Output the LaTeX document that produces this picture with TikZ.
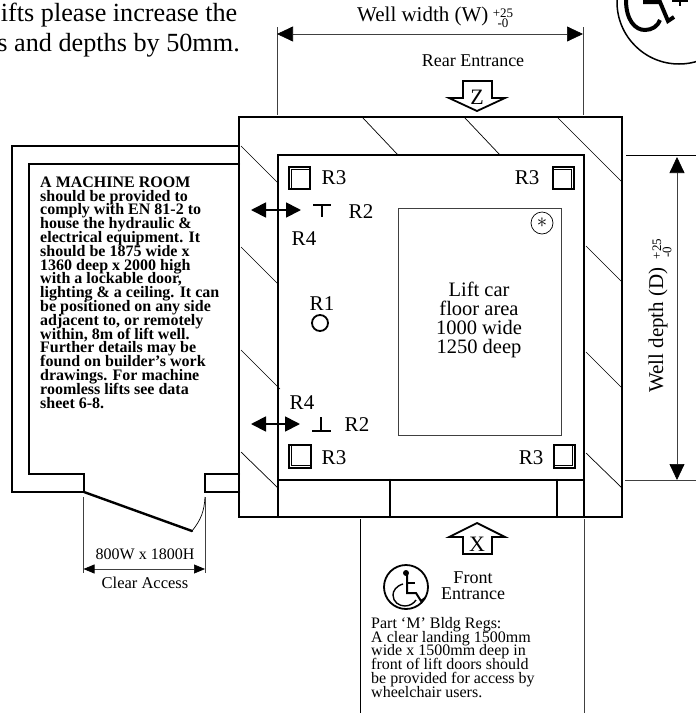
\documentclass[tikz,border=0pt]{standalone}
\usepackage{fontspec}
\setmainfont{Liberation Serif}
\usetikzlibrary{arrows.meta}
\lineskiplimit=-30pt

\begin{document}
\begin{tikzpicture}[x=1pt,y=-1pt,
	wall/.style={line width=2.4pt,line cap=round,line join=miter},
	hatch/.style={line width=.7pt},
	dim/.style={line width=.7pt,black!75},
	bigdim/.style={line width=.7pt,black!75,{Triangle[length=16pt,width=15pt,black]}-{Triangle[length=16pt,width=15pt,black]}},
	smalldim/.style={line width=.7pt,black!75,{Triangle[length=11pt,width=9pt,black]}-{Triangle[length=11pt,width=9pt,black]}},
	moveit/.style={line width=1.8pt,{Triangle[length=15pt,width=15pt]}-{Triangle[length=15pt,width=15pt]}},
	entry/.style={line width=1.8pt,line join=miter},
	lbl/.style={inner sep=0pt,font=\fontsize{21}{21}\selectfont},
	topnote/.style={anchor=east,inner sep=0pt,font=\fontsize{26.2}{26.2}\selectfont},
	note/.style={inner sep=0pt,align=left,font=\fontsize{16}{13.8}\selectfont},
	tol/.style={inner sep=0pt,font=\fontsize{13}{13}\selectfont},
	chair/.style={line width=2pt,line cap=butt},
	railbox/.style={line width=2pt},
	railin/.style={line width=1.8pt}]
	\useasboundingbox (0,0) rectangle (696,713);
	\clip (0,0) rectangle (696,713);

	%top note
	\node [topnote] (n1) at (237.5,15) {ifts please increase the};
	\node [topnote] (n2) at (240,45) {s and depths by 50mm.};

	%well walls
	\draw [wall] (239,117) rectangle (622,517);
	\draw [wall] (278,155) rectangle (584,480);
	\draw [wall] (278,480) -- (278,517);
	\draw [wall] (390,480) -- (390,517);
	\draw [wall] (557,480) -- (557,517);
	\draw [wall] (584,480) -- (584,517);

	%hatching
	\draw [hatch] (363,118) -- (398,155);
	\draw [hatch] (465,118) -- (500,155);
	\draw [hatch] (558,118) -- (622,182);
	\draw [hatch] (241,146) -- (278,183);
	\draw [hatch] (241,247) -- (278,284);
	\draw [hatch] (241,350) -- (280,389);
	\draw [hatch] (241,452) -- (278,488);
	\draw [hatch] (586,246) -- (622,282);
	\draw [hatch] (586,352) -- (622,388);
	\draw [hatch] (586,453) -- (622,488);

	%machine room
	\draw [wall] (239,146) -- (12,146) -- (12,492) -- (84,492) -- (84,474) -- (29,474) -- (29,164) -- (239,164);
	\draw [wall] (239,474) -- (205,474) -- (205,492) -- (239,492);
	\coordinate (d1) at (84,492);
	\coordinate (d2) at (192,531);
	\coordinate (d3) at (205,497);
	\draw [wall] (d1) -- (d2);
	\draw [hatch] (d2) to [bend right=18] (d3);
	\node [note,anchor=north west,font=\bfseries\fontsize{16}{13.8}\selectfont] (room) at (40,176.5) {A MACHINE ROOM\\should be provided to\\comply with EN 81-2 to\\house the hydraulic \&\\electrical equipment. It\\should be 1875 wide x\\1360 deep x 2000 high\\with a lockable door,\\lighting \& a ceiling. It can\\be positioned on any side\\adjacent to, or remotely\\within, 8m of lift well.\\Further details may be\\found on builder’s work\\drawings. For machine\\roomless lifts see data\\sheet 6-8.};

	%clear access
	\coordinate (a1) at (83.5,497);
	\coordinate (a2) at (83.5,573);
	\coordinate (a3) at (205,497);
	\coordinate (a4) at (205,573);
	\draw [dim] (a1) -- (a2);
	\draw [dim] (a3) -- (a4);
	\draw [smalldim] (83.5,569) -- (205,569);
	\node [inner sep=0pt,font=\fontsize{16}{16}\selectfont] (c1) at (145,554) {800W x 1800H};
	\node [inner sep=0pt,font=\fontsize{16.5}{16.5}\selectfont] (c2) at (145,583) {Clear Access};

	%well width
	\coordinate (w1) at (277,27);
	\coordinate (w2) at (277,115);
	\coordinate (w3) at (583,27);
	\coordinate (w4) at (583,115);
	\draw [dim] (w1) -- (w2);
	\draw [dim] (w3) -- (w4);
	\draw [bigdim] (277,34) -- (583,34);
	\node [lbl,anchor=west] (t1) at (357,16) {Well width (W)};
	\node [tol] (t2) at (503,13) {+25};
	\node [tol] (t3) at (503,23) {-0};

	%well depth
	\coordinate (e1) at (626,155);
	\coordinate (e2) at (696,155);
	\coordinate (e3) at (625,480);
	\coordinate (e4) at (696,480);
	\draw [dim,black] (e1) -- (e2);
	\draw [dim] (e3) -- (e4);
	\draw [bigdim] (677,157) -- (677,480);
	\node [lbl,rotate=90,anchor=west] (t4) at (658,393) {Well depth (D)};
	\node [tol,rotate=90] (t5) at (657,249) {+25};
	\node [tol,rotate=90] (t6) at (667,252) {-0};

	%rear entrance
	\node [inner sep=0pt,font=\fontsize{18}{18}\selectfont] (rear) at (473,61) {Rear Entrance};
	\draw [entry] (463,81) -- (492,81) -- (492,98) -- (505,98) -- (477,111) -- (449,98) -- (463,98) -- cycle;
	\node [inner sep=0pt,font=\fontsize{22}{22}\selectfont] (z) at (477,97) {Z};

	%front entrance
	\draw [entry] (463,554) -- (492,554) -- (492,537) -- (505,537) -- (477,523) -- (449,537) -- (463,537) -- cycle;
	\node [inner sep=0pt,font=\fontsize{22}{22}\selectfont] (x) at (477,544) {X};
	\coordinate (f1) at (360,519);
	\coordinate (f2) at (360,713);
	\coordinate (f3) at (584,519);
	\coordinate (f4) at (584,713);
	\draw [hatch] (f1) -- (f2);
	\draw [dim] (f3) -- (f4);
	\node [inner sep=0pt,align=center,font=\fontsize{18}{16}\selectfont] (front) at (473,586) {Front\\Entrance};
	\node [note,anchor=north west] (part) at (371,617) {Part ‘M’ Bldg Regs:\\A clear landing 1500mm\\wide x 1500mm deep in\\front of lift doors should\\be provided for access by\\wheelchair users.};

	%wheelchair, front
	\draw [line width=1.8pt] (406,587) circle (22);
	\fill (406,573) circle (3);
	\draw [chair] (407,573) -- (407,593) -- (416,593) -- (421,601) -- (425,598);
	\draw [chair] (407,583) -- (415,583);
	\draw [line width=1.4pt] (403,584) .. controls (396,586) and (393,591) .. (393,595) .. controls (393,602) and (399,606) .. (405,606) .. controls (410,606) and (414,603) .. (416,600);

	%wheelchair, top right
	\draw [line width=1.5pt] (679,2) circle (62);
	\draw [line width=4pt] (626,0) .. controls (626,20) and (635,30) .. (645,30) .. controls (652,30) and (658,26) .. (660,20);
	\draw [line width=4pt] (643,2) -- (660,2) -- (668,21) -- (674,17);
	\draw [line width=1.5pt] (672,1) -- (688,1);
	\draw [line width=1.5pt] (680,0) -- (680,6);

	%lift car
	\draw [dim] (398,208) rectangle (561,435);
	\node [circle,draw,line width=.7pt,minimum size=22pt,inner sep=0pt,font=\fontsize{20}{20}\selectfont] (star) at (542,223) {$\ast$};
	\node [inner sep=0pt,align=center,font=\fontsize{20.5}{18.7}\selectfont] (car) at (479,320) {Lift car\\floor area\\1000 wide\\1250 deep};

	%rails and brackets
	\draw [railbox] (289,167) rectangle (310,189);
	\draw [railin] (291.5,189) -- (291.5,169.5) -- (310,169.5);
	\draw [railbox] (553,167) rectangle (574,189);
	\draw [railin] (571.5,189) -- (571.5,169.5) -- (553,169.5);
	\draw [railbox] (554,445) rectangle (575,468);
	\draw [railin] (572.5,445) -- (572.5,465.5) -- (554,465.5);
	\draw [railbox] (289,445) rectangle (311,468);
	\draw [railin] (291.5,445) -- (291.5,465.5) -- (311,465.5);
	\node [lbl] (r3a) at (334,178) {R3};
	\node [lbl] (r3b) at (527,178) {R3};
	\node [lbl] (r3c) at (531,458) {R3};
	\node [lbl] (r3d) at (334,458) {R3};

	\draw [line width=1.8pt] (313,205) -- (331,205);
	\draw [line width=1.8pt] (322,205) -- (322,217);
	\draw [line width=1.8pt] (312,431) -- (331,431);
	\draw [line width=1.8pt] (321,417) -- (321,431);
	\node [lbl] (r2a) at (361,212) {R2};
	\node [lbl] (r2b) at (357,425) {R2};

	\draw [moveit] (251,210) -- (301,210);
	\draw [moveit] (251,424) -- (300,424);
	\node [lbl] (r4a) at (304,239) {R4};
	\node [lbl] (r4b) at (302,403) {R4};

	\node [lbl] (r1) at (322,304) {R1};
	\draw [line width=1.8pt] (320,323) circle (8);
\end{tikzpicture}
\end{document}
